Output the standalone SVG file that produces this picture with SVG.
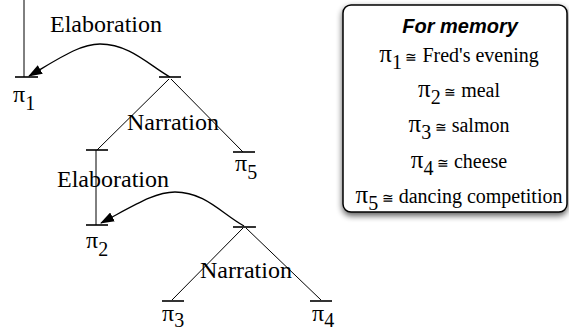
<svg xmlns="http://www.w3.org/2000/svg" width="569" height="332" viewBox="0 0 569 332">
<defs>
<style>
text{fill:#000}
.sf{font-family:'Liberation Serif','Times New Roman',Times,serif}
.lbl{font-size:24px}
.bar{stroke:#000;stroke-width:1.6;fill:none}
.ln{stroke:#000;stroke-width:1;fill:none}
.arc{stroke:#000;stroke-width:1.3;fill:none;marker-end:url(#ah)}
.sub{font-size:20px}
.eq{font-size:14px}
.row{font-size:20px}
</style>
<marker id="ah" markerUnits="userSpaceOnUse" markerWidth="14" markerHeight="10" refX="13" refY="5" orient="auto" viewBox="0 0 14 10">
<path d="M0,0 L14,5 L0,10 z" fill="#000"/>
</marker>
<filter id="sh" x="-10%" y="-10%" width="130%" height="130%">
<feGaussianBlur in="SourceAlpha" stdDeviation="3"/>
<feOffset dx="0" dy="3" result="b"/>
<feComponentTransfer><feFuncA type="linear" slope="0.65"/></feComponentTransfer>
<feMerge><feMergeNode/><feMergeNode in="SourceGraphic"/></feMerge>
</filter>
</defs>

<g id="connectors" class="sf">
<line class="ln" x1="24" y1="0" x2="24" y2="77"/>
<line class="ln" x1="169" y1="79" x2="97" y2="150"/>
<line class="ln" x1="171" y1="79" x2="243" y2="152"/>
<line class="ln" x1="96" y1="150" x2="96" y2="225"/>
<line class="ln" x1="243" y1="228" x2="172" y2="300"/>
<line class="ln" x1="246" y1="228" x2="321" y2="300"/>
<path class="arc" d="M170,77 C150,66 130,44 100,44 C80,44 60,58 29,76"/>
<path class="arc" d="M244,226 C222,214 205,192 175,192 C155,192 135,205 101,223"/>
<text class="sf lbl" x="50" y="32">Elaboration</text>
<text class="sf lbl" x="127" y="130">Narration</text>
<text class="sf lbl" x="57" y="187">Elaboration</text>
<text class="sf lbl" x="200" y="278">Narration</text>
</g>

<g class="sf">
<g id="n_pi1">
<line class="bar" x1="15" y1="77" x2="38" y2="77"/>
<text class="sf lbl" x="13" y="102">π<tspan class="sub" dy="8">1</tspan></text>
</g>
<g id="n_root">
<line class="bar" x1="159" y1="77" x2="181" y2="77"/>
</g>
<g id="n_left">
<line class="bar" x1="86" y1="150" x2="108" y2="150"/>
</g>
<g id="n_pi5">
<line class="bar" x1="233" y1="152" x2="255" y2="152"/>
<text class="sf lbl" x="235" y="171">π<tspan class="sub" dy="8">5</tspan></text>
</g>
<g id="n_pi2">
<line class="bar" x1="86" y1="225" x2="108" y2="225"/>
<text class="sf lbl" x="86" y="248">π<tspan class="sub" dy="8">2</tspan></text>
</g>
<g id="n_right">
<line class="bar" x1="233" y1="227" x2="256" y2="227"/>
</g>
<g id="n_pi3">
<line class="bar" x1="162" y1="301" x2="184" y2="301"/>
<text class="sf lbl" x="162" y="321">π<tspan class="sub" dy="6">3</tspan></text>
</g>
<g id="n_pi4">
<line class="bar" x1="310" y1="301" x2="332" y2="301"/>
<text class="sf lbl" x="312" y="321">π<tspan class="sub" dy="6">4</tspan></text>
</g>

<g id="memory">
<rect x="343" y="5" width="224" height="207" rx="8" fill="#fff" stroke="#000" stroke-width="1.5" filter="url(#sh)"/>
<text x="460" y="33" text-anchor="middle" font-family="Liberation Sans, Arial, sans-serif" font-weight="bold" font-style="italic" font-size="20">For memory</text>
<text class="sf" x="459" y="62" text-anchor="middle"><tspan font-size="25">π</tspan><tspan class="sub" dy="7">1</tspan><tspan class="eq" dy="-7"> ≅</tspan><tspan class="row"> Fred's evening</tspan></text>
<text class="sf" x="459" y="97" text-anchor="middle"><tspan font-size="25">π</tspan><tspan class="sub" dy="7">2</tspan><tspan class="eq" dy="-7"> ≅</tspan><tspan class="row"> meal</tspan></text>
<text class="sf" x="459" y="132" text-anchor="middle"><tspan font-size="25">π</tspan><tspan class="sub" dy="7">3</tspan><tspan class="eq" dy="-7"> ≅</tspan><tspan class="row"> salmon</tspan></text>
<text class="sf" x="459" y="168" text-anchor="middle"><tspan font-size="25">π</tspan><tspan class="sub" dy="7">4</tspan><tspan class="eq" dy="-7"> ≅</tspan><tspan class="row"> cheese</tspan></text>
<text class="sf" x="459" y="203" text-anchor="middle"><tspan font-size="25">π</tspan><tspan class="sub" dy="7">5</tspan><tspan class="eq" dy="-7"> ≅</tspan><tspan class="row"> dancing competition</tspan></text>
</g>
</g>
</svg>
